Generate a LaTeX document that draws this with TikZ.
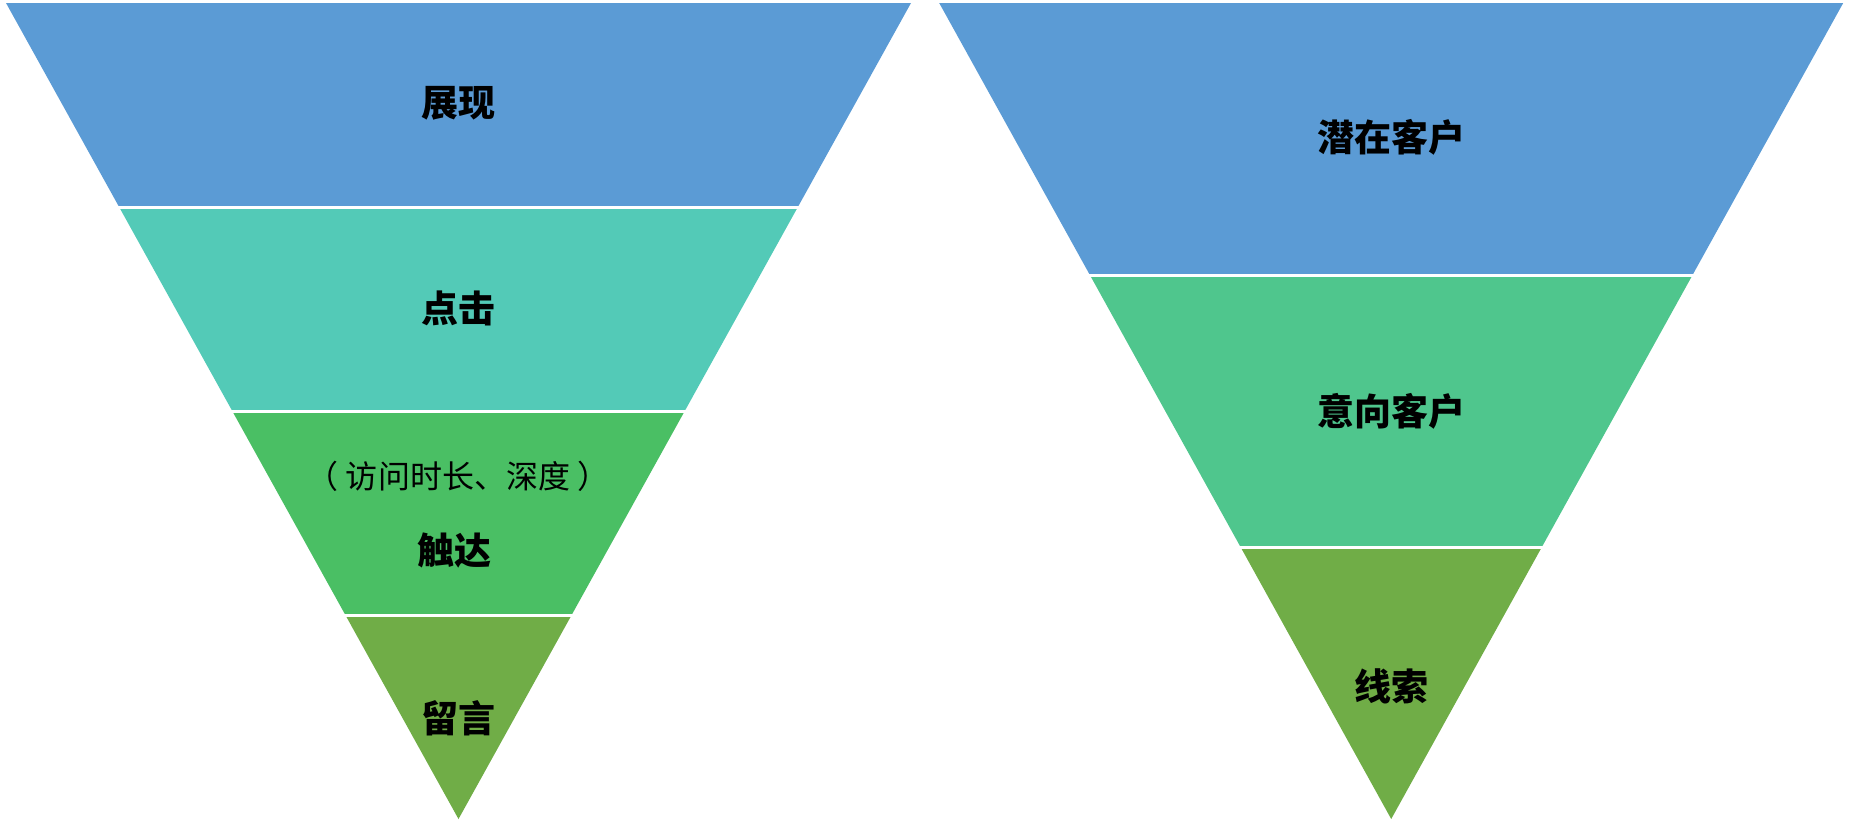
\documentclass[tikz,border=0pt]{standalone}
\usepackage{fontspec}
\newfontfamily\cjk{Noto Sans CJK SC}
\usetikzlibrary{calc}
\definecolor{bandblue}{HTML}{5B9BD5}
\definecolor{bandteal}{HTML}{53CAB7}
\definecolor{bandgreen}{HTML}{4ABF64}
\definecolor{bandmint}{HTML}{4FC68D}
\definecolor{bandolive}{HTML}{70AD47}

\begin{document}
\begin{tikzpicture}[x=0.5pt,y=-0.5pt,
    stagetext/.style={font=\cjk\bfseries\fontsize{18.5}{20}\selectfont, text=black},
    subtext/.style={font=\cjk\fontsize{16}{18}\selectfont, text=black}]
    \useasboundingbox (0,0) rectangle (1850,827);

    % Left funnel (four stages)
    \foreach \i/\col in {0/bandblue,1/bandteal,2/bandgreen,3/bandolive} {
        \pgfmathsetmacro\ytop{3+204*\i}
        \pgfmathsetmacro\ybot{3+204*(\i+1)}
        \pgfmathsetmacro\wtop{(452.5/816)*(819-\ytop)}
        \pgfmathsetmacro\wbot{(452.5/816)*(819-\ybot)}
        \fill[\col] ({458.5-\wtop},\ytop) -- ({458.5+\wtop},\ytop) -- ({458.5+\wbot},\ybot) -- ({458.5-\wbot},\ybot) -- cycle;
    }
    % white gaps between stages
    \foreach \y in {207,411,615} {
        \draw[white, line width=1.5pt] (0,\y) -- (925,\y);
    }
    \node[stagetext] (zhanxian) at (458,103) {展现};
    \node[stagetext] (dianji) at (458,308) {点击};
    \node[subtext] (fangwen) at (458,476) {（ 访问时长、深度 ）};
    \node[stagetext] (chuda) at (454,550) {触达};
    \node[stagetext] (liuyan) at (458,718) {留言};

    % Right funnel (three stages)
    \foreach \i/\col in {0/bandblue,1/bandmint,2/bandolive} {
        \pgfmathsetmacro\ytop{3+272*\i}
        \pgfmathsetmacro\ybot{3+272*(\i+1)}
        \pgfmathsetmacro\wtop{(452/816)*(819-\ytop)}
        \pgfmathsetmacro\wbot{(452/816)*(819-\ybot)}
        \fill[\col] ({1391.2-\wtop},\ytop) -- ({1391.2+\wtop},\ytop) -- ({1391.2+\wbot},\ybot) -- ({1391.2-\wbot},\ybot) -- cycle;
    }
    \foreach \y in {275,547} {
        \draw[white, line width=1.5pt] (925,\y) -- (1850,\y);
    }
    \node[stagetext] (qianzai) at (1391,137) {潜在客户};
    \node[stagetext] (yixiang) at (1391,411) {意向客户};
    \node[stagetext] (xiansuo) at (1391,686) {线索};
\end{tikzpicture}
\end{document}
